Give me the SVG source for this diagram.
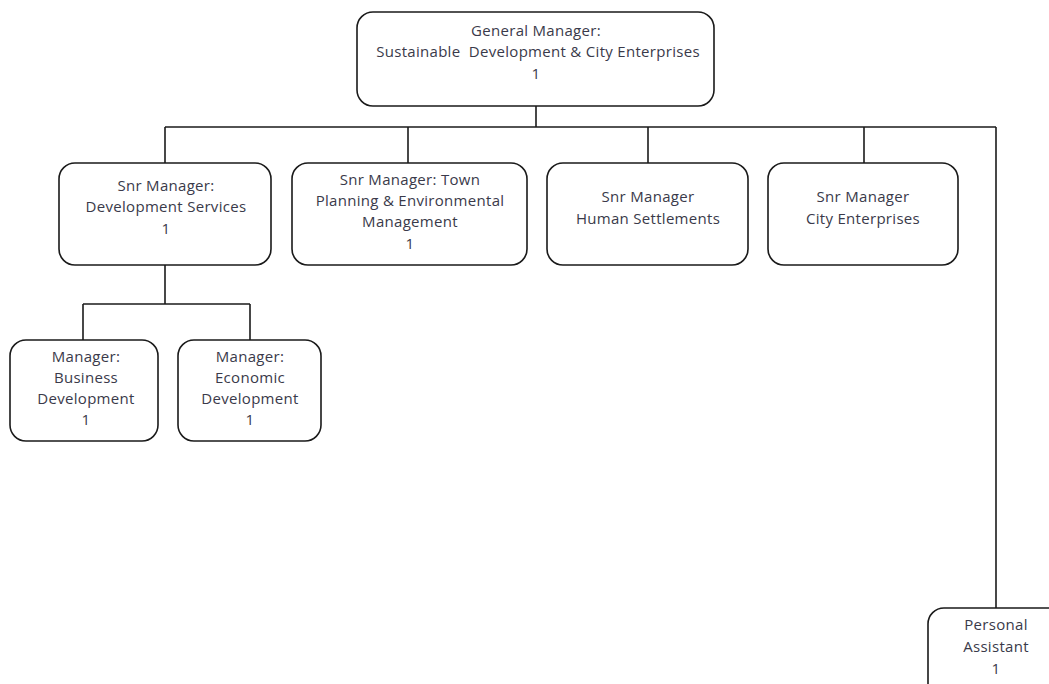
<svg xmlns="http://www.w3.org/2000/svg" width="1049" height="684" viewBox="0 0 1049 684">
  <style>
    .box { fill: #ffffff; stroke: #1a1a1a; stroke-width: 1.6; }
    .wire { fill: none; stroke: #1a1a1a; stroke-width: 1.6; }
    text { font-family: "Open Sans", "DejaVu Sans", sans-serif; font-size: 15px; letter-spacing: 0.3px; fill: #3a3a4a; text-anchor: middle; }
  </style>
  <rect width="1049" height="684" fill="#ffffff"/>

  <!-- reporting lines -->
  <g id="connectors">
    <path class="wire" d="M536 106 V127"/>
    <path class="wire" d="M165 127 H996"/>
    <path class="wire" d="M165 127 V163"/>
    <path class="wire" d="M408 127 V163"/>
    <path class="wire" d="M648 127 V163"/>
    <path class="wire" d="M864 127 V163"/>
    <path class="wire" d="M996 127 V608"/>
    <path class="wire" d="M165 265 V304"/>
    <path class="wire" d="M83 304 H250"/>
    <path class="wire" d="M83 304 V340"/>
    <path class="wire" d="M250 304 V340"/>
  </g>

  <g id="gm">
    <rect class="box" x="357" y="12" width="357" height="94" rx="16"/>
    <text x="536" y="36">General Manager:</text>
    <text x="538" y="57" xml:space="preserve">Sustainable  Development &amp; City Enterprises</text>
    <text x="536" y="79">1</text>
  </g>

  <g id="snr-dev-services">
    <rect class="box" x="59" y="163" width="212" height="102" rx="16"/>
    <text x="166" y="191">Snr Manager:</text>
    <text x="166" y="212">Development Services</text>
    <text x="166" y="234">1</text>
  </g>

  <g id="snr-town-planning">
    <rect class="box" x="292" y="163" width="235" height="102" rx="16"/>
    <text x="410" y="185">Snr Manager: Town</text>
    <text x="410" y="206">Planning &amp; Environmental</text>
    <text x="410" y="227">Management</text>
    <text x="410" y="249">1</text>
  </g>

  <g id="snr-human-settlements">
    <rect class="box" x="547" y="163" width="201" height="102" rx="16"/>
    <text x="648" y="202">Snr Manager</text>
    <text x="648" y="224">Human Settlements</text>
  </g>

  <g id="snr-city-enterprises">
    <rect class="box" x="768" y="163" width="190" height="102" rx="16"/>
    <text x="863" y="202">Snr Manager</text>
    <text x="863" y="224">City Enterprises</text>
  </g>

  <g id="mgr-business-dev">
    <rect class="box" x="10" y="340" width="148" height="101" rx="16"/>
    <text x="86" y="362">Manager:</text>
    <text x="86" y="383">Business</text>
    <text x="86" y="404">Development</text>
    <text x="86" y="425">1</text>
  </g>

  <g id="mgr-economic-dev">
    <rect class="box" x="178" y="340" width="143" height="101" rx="16"/>
    <text x="250" y="362">Manager:</text>
    <text x="250" y="383">Economic</text>
    <text x="250" y="404">Development</text>
    <text x="250" y="425">1</text>
  </g>

  <g id="personal-assistant">
    <rect class="box" x="928" y="608" width="140" height="100" rx="16"/>
    <text x="996" y="630">Personal</text>
    <text x="996" y="652">Assistant</text>
    <text x="996" y="674">1</text>
  </g>
</svg>
